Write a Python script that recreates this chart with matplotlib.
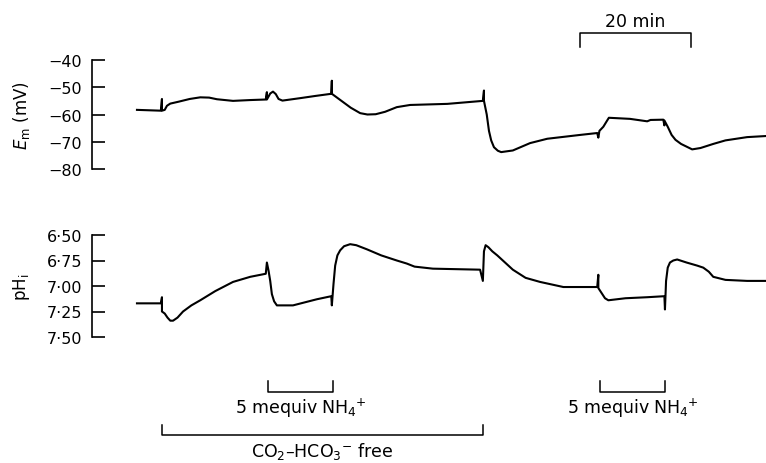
import matplotlib
matplotlib.use('Agg')
import matplotlib.pyplot as plt
from matplotlib.ticker import FixedLocator, FuncFormatter

plt.rcParams['font.family'] = ['DejaVu Sans']
plt.rcParams['mathtext.fontset'] = 'dejavusans'

# time in minutes from start of the recording
em_t = [0.0, 4.3, 4.5, 4.5, 5.0, 5.4, 6.0, 7.5, 9.5, 11.4, 13.0, 14.4, 17.3, 20.4, 23.2,
        23.4, 23.4, 24.0, 24.5, 25.0, 25.5, 26.2, 29.4, 32.1, 35.0, 35.1, 35.1,
        36.5, 38.5, 40.2, 41.5, 43.0, 44.7, 46.8, 49.2, 55.9, 62.3, 62.5, 62.5,
        63.0, 63.4, 63.8, 64.3, 65.0, 65.6, 67.7, 70.8, 73.9, 79.8, 82.9, 83.1,
        83.3, 84.0, 84.6, 85.0, 88.8, 91.9, 92.5, 94.8, 95.0, 95.0, 95.6, 96.3,
        97.0, 98.0, 100.0, 101.5, 103.8, 106.0, 109.9, 113.3]
em_mv = [-58.3, -58.6, -54.3, -58.6, -58.3, -56.8, -56.0, -55.3, -54.3, -53.7, -53.8, -54.4, -55.0, -54.7, -54.5,
         -51.8, -54.5, -52.3, -51.6, -52.5, -54.3, -54.9, -54.0, -53.2, -52.4, -47.6, -52.4,
         -54.5, -57.5, -59.5, -60.0, -59.9, -59.0, -57.3, -56.5, -56.1, -55.0, -51.2, -55.0,
         -60.0, -66.0, -69.5, -72.0, -73.3, -73.8, -73.2, -70.5, -68.9, -67.5, -66.8, -68.5,
         -66.0, -64.5, -62.5, -61.2, -61.6, -62.5, -62.0, -61.9, -64.0, -62.2, -64.5, -67.5,
         -69.3, -70.8, -72.8, -72.3, -70.8, -69.5, -68.3, -67.9]

ph_t = [0.0, 4.3, 4.5, 4.5, 5.0, 5.5, 6.0, 6.5, 7.3, 8.3, 9.8, 11.4, 14.1, 17.3, 20.4,
        23.2, 23.4, 23.7, 24.0, 24.3, 24.7, 25.2, 28.1, 32.4, 35.0, 35.1, 35.4,
        35.7, 36.1, 36.6, 37.3, 38.4, 39.5, 41.4, 44.0, 46.8, 48.6, 50.0, 53.3,
        61.8, 62.3, 62.5, 62.8, 63.3, 64.0, 64.9, 66.3, 67.7, 70.0, 72.6, 76.8,
        82.9, 83.1, 83.1, 83.7, 84.3, 84.9, 88.0, 91.9, 95.0, 95.1, 95.3, 95.6,
        96.0, 96.6, 97.3, 99.0, 100.9, 102.0, 103.0, 103.8, 106.0, 109.9, 113.3]
ph_i = [7.17, 7.17, 7.11, 7.25, 7.27, 7.31, 7.34, 7.34, 7.31, 7.25, 7.19, 7.14, 7.05, 6.96, 6.91,
        6.88, 6.77, 6.85, 6.95, 7.08, 7.15, 7.19, 7.19, 7.13, 7.10, 7.19, 6.98,
        6.80, 6.70, 6.65, 6.61, 6.59, 6.60, 6.64, 6.70, 6.75, 6.78, 6.81, 6.83,
        6.84, 6.95, 6.66, 6.60, 6.62, 6.66, 6.70, 6.77, 6.84, 6.92, 6.96, 7.01,
        7.01, 6.89, 7.02, 7.07, 7.12, 7.14, 7.12, 7.11, 7.10, 7.23, 6.95, 6.82,
        6.77, 6.75, 6.74, 6.77, 6.80, 6.82, 6.86, 6.91, 6.94, 6.95, 6.95]

em_ticks = [-40, -50, -60, -70, -80]
ph_ticks = [6.50, 6.75, 7.00, 7.25, 7.50]

# solution changes (min)
co2_free = (4.5, 62.3)
nh4_pulses = [(23.6, 35.3), (83.4, 95.1)]
scale_bar = (79.8, 99.8)

W, H = 766, 464
xlim = (-8.1, 113.3)
fig = plt.figure(figsize=(W / 100, H / 100), dpi=100)

left = 92 / W
width = 1 - left
ax1 = fig.add_axes([left, 1 - 170 / H, width, 109 / H])
ax2 = fig.add_axes([left, 1 - 338 / H, width, 102 / H])
ann = fig.add_axes([left, 0, width, 1])   # overlay for brackets, y in pixels

ax1.plot(em_t, em_mv, color='black', lw=1.5)
ax2.plot(ph_t, ph_i, color='black', lw=1.5)

ax1.set_ylim(-80, -40)
ax2.set_ylim(7.5, 6.5)

for ax, ticks, fmt in [(ax1, em_ticks, lambda v, p: '\u2212%d' % abs(v)),
                       (ax2, ph_ticks, lambda v, p: ('%.2f' % v).replace('.', '\u00b7'))]:
    ax.set_xlim(*xlim)
    for s in ['top', 'right', 'bottom']:
        ax.spines[s].set_visible(False)
    ax.spines['left'].set_linewidth(1.2)
    ax.set_xticks([])
    ax.yaxis.set_major_locator(FixedLocator(ticks))
    ax.yaxis.set_major_formatter(FuncFormatter(fmt))
    ax.tick_params(axis='y', direction='in', length=9.5, width=1.2, pad=7, labelsize=11.5)
    ax.patch.set_visible(False)

ax1.set_ylabel('$E_{\\mathrm{m}}$ (mV)', fontsize=12, va='center')
ax1.yaxis.set_label_coords(-0.105, 0.5)
ax2.set_ylabel('pH$_{\\mathrm{i}}$', fontsize=12, va='center')
ax2.yaxis.set_label_coords(-0.105, 0.5)

ann.set_xlim(*xlim)
ann.set_ylim(H, 0)
ann.axis('off')

def bracket(x0, x1, ytop, ybot, up=False):
    if up:
        ann.plot([x0, x0, x1, x1], [ybot, ytop, ytop, ybot], color='black', lw=1.1)
    else:
        ann.plot([x0, x0, x1, x1], [ytop, ybot, ybot, ytop], color='black', lw=1.1)

for a, b in nh4_pulses:
    bracket(a, b, 382, 393)
    ann.text((a + b) / 2, 414, '5 mequiv NH$_4$$^{+}$', ha='center', va='baseline', fontsize=12.5)

bracket(co2_free[0], co2_free[1], 426, 436)
ann.text(sum(co2_free) / 2, 457, 'CO$_2$\u2013HCO$_3$$^{-}$ free', ha='center', va='baseline', fontsize=12.5)

bracket(scale_bar[0], scale_bar[1], 34, 48, up=True)
ann.text(sum(scale_bar) / 2, 27, '20 min', ha='center', va='baseline', fontsize=12.5)

fig.savefig('out.png', dpi=100)
